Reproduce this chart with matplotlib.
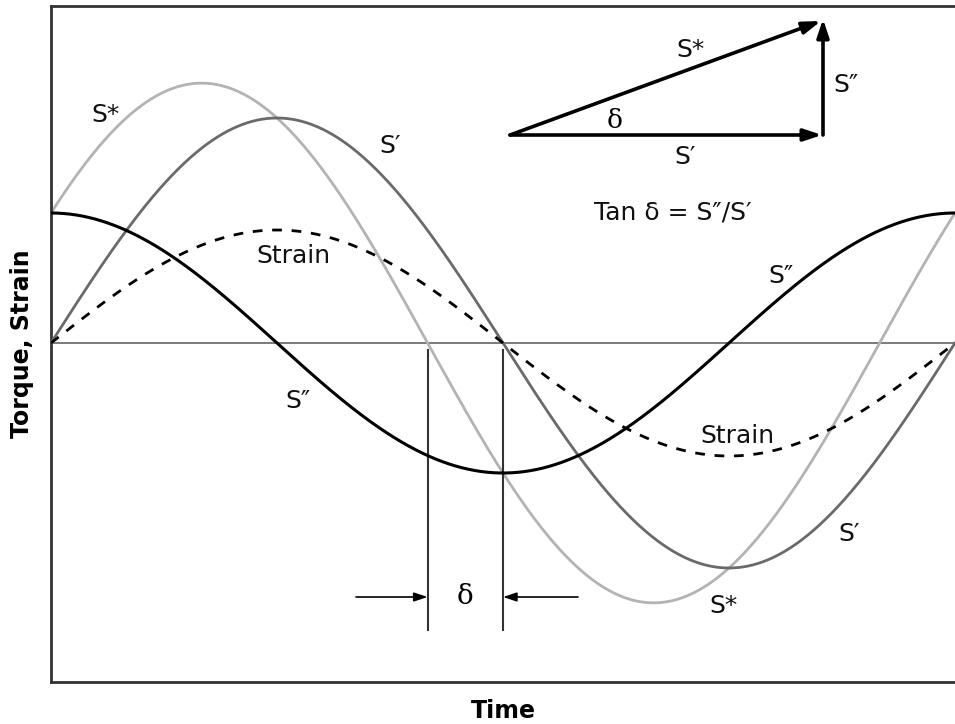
import matplotlib
matplotlib.use("Agg")
import matplotlib.pyplot as plt
import numpy as np

# Amplitudes (units of 100 px), phase in degrees
AMP_STORAGE = 2.25   # S'  (in phase with strain)
AMP_LOSS = 1.30      # S'' (90 deg ahead of strain)
AMP_STRAIN = 1.13    # strain, dashed
theta = np.linspace(0, 360, 721)

s_storage = AMP_STORAGE * np.sin(np.radians(theta))
s_loss = AMP_LOSS * np.cos(np.radians(theta))
s_star = s_storage + s_loss          # S* = S' + S''
strain = AMP_STRAIN * np.sin(np.radians(theta))

# phase lag of S* and its zero crossing
delta = np.degrees(np.arctan2(AMP_LOSS, AMP_STORAGE))
cross_star = 180 - delta
cross_storage = 180.0

# pixel -> data helper for annotations (reference was 955x724)
X0, X1, YZ = 51, 955, 343
def px(x, y):
    return (x - X0) / (X1 - X0) * 360, (YZ - y) / 100

fig = plt.figure(figsize=(9.55, 7.24), dpi=100)
ax = fig.add_axes([51 / 955, (724 - 682) / 724, (955 - 51) / 955, (682 - 6) / 724])
ax.set_xlim(0, 360)
ax.set_ylim((YZ - 682) / 100, (YZ - 6) / 100)

ax.axhline(0, color="#707070", lw=1.3, zorder=1)
ax.plot(theta, s_star, color="#b3b3b3", lw=2.0, zorder=2)
ax.plot(theta, s_storage, color="#6a6a6a", lw=2.0, zorder=3)
ax.plot(theta, strain, color="black", lw=2.0, ls=(0, (3.5, 3.5)), zorder=3)
ax.plot(theta, s_loss, color="black", lw=2.2, zorder=4)

# delta marker below the zero line
y_top, y_bot = px(0, 350)[1], px(0, 630)[1]
for xc in (cross_star, cross_storage):
    ax.plot([xc, xc], [y_bot, y_top], color="#333333", lw=1.5)
y_arr = px(0, 597)[1]
akw = dict(arrowstyle="-|>,head_length=0.9,head_width=0.3", color="black", lw=1.2,
           shrinkA=0, shrinkB=0, mutation_scale=9)
ax.annotate("", xy=(cross_star, y_arr), xytext=(px(356, 0)[0], y_arr), arrowprops=akw)
ax.annotate("", xy=(cross_storage, y_arr), xytext=(px(578, 0)[0], y_arr), arrowprops=akw)
ax.text((cross_star + cross_storage) / 2, y_arr, "δ", fontsize=20, ha="center", va="center",
        family="DejaVu Serif")

# vector diagram
vkw = dict(arrowstyle="-|>,head_length=0.9,head_width=0.3", color="black", lw=2.6,
           shrinkA=0, shrinkB=0, mutation_scale=12)
ax.annotate("", xy=px(822, 135), xytext=px(510, 135), arrowprops=vkw)
ax.annotate("", xy=px(823, 19), xytext=px(823, 135), arrowprops=vkw)
ax.annotate("", xy=px(821, 21), xytext=px(510, 135), arrowprops=vkw)

fs = 18
labels = [
    ("S*", 690, 50), ("S″", 846, 85), ("S′", 685, 157),
    ("Tan δ = S″/S′", 673, 212),
    ("S*", 105, 115), ("S′", 390, 146), ("Strain", 293, 256), ("S″", 298, 401),
    ("S″", 781, 276), ("Strain", 737, 436), ("S′", 849, 534), ("S*", 723, 606),
]
for txt, x, y in labels:
    ax.text(*px(x, y), txt, fontsize=fs, ha="center", va="center", color="#111111")
ax.text(*px(615, 121), "δ", fontsize=19, ha="center", va="center", family="DejaVu Serif")

ax.set_xticks([])
ax.set_yticks([])
for side in ("left", "top", "bottom"):
    ax.spines[side].set_color("#333333")
    ax.spines[side].set_linewidth(2.0)
ax.spines["right"].set_visible(False)

ax.set_xlabel("Time", fontsize=17, fontweight="bold", labelpad=12)
ax.set_ylabel("Torque, Strain", fontsize=17, fontweight="bold", labelpad=12)

fig.savefig("out.png", dpi=100)
